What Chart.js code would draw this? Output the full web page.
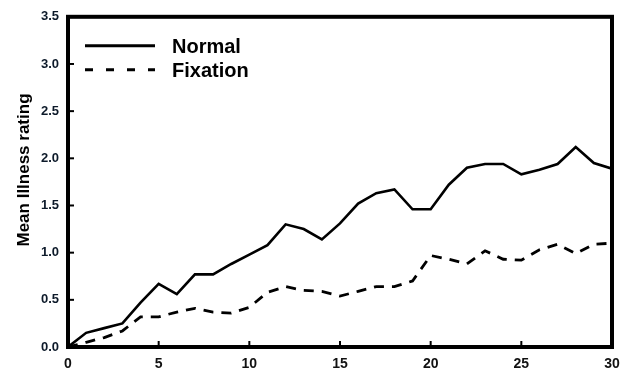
<!DOCTYPE html>
<html>
<head>
<meta charset="utf-8">
<script src="https://cdn.jsdelivr.net/npm/chart.js@4.4.1/dist/chart.umd.min.js"></script>
<style>
  html, body { margin: 0; padding: 0; background: #fff; }
  #wrap { width: 634px; height: 372px; position: relative; }
</style>
</head>
<body>
<div id="wrap"><canvas id="c" width="634" height="372"></canvas></div>
<script>
// Days of exposure (x) and mean illness ratings per condition
const days = [0,1,2,3,4,5,6,7,8,9,10,11,12,13,14,15,16,17,18,19,20,21,22,23,24,25,26,27,28,29,30];
const normal = [0,0.15,0.20,0.25,0.47,0.67,0.56,0.77,0.77,0.88,0.98,1.08,1.30,1.25,1.14,1.31,1.52,1.63,1.67,1.46,1.46,1.72,1.90,1.94,1.94,1.83,1.88,1.94,2.12,1.95,1.89];
const fixation = [0,0.05,0.10,0.17,0.32,0.32,0.37,0.41,0.37,0.36,0.42,0.58,0.64,0.60,0.59,0.54,0.59,0.64,0.64,0.70,0.97,0.93,0.88,1.02,0.93,0.92,1.03,1.09,0.99,1.09,1.10];
const xTicks = [0,5,10,15,20,25,30];
const yTicks = [0,0.5,1.0,1.5,2.0,2.5,3.0,3.5];
const seriesNames = ['Normal', 'Fixation'];
const yTitle = 'Mean Illness rating';

const FONT = '"Liberation Sans", Arial, sans-serif';
const toPoints = (vals) => days.map((d, i) => ({ x: d, y: vals[i] }));

// Thick frame, inward tick marks, axis title and the in-plot legend
const framePlugin = {
  id: 'frame',
  afterDraw(chart) {
    const { ctx, chartArea: a, scales } = chart;
    ctx.save();
    ctx.strokeStyle = '#000';
    // inner tick marks
    ctx.lineWidth = 2;
    yTicks.forEach(v => {
      const y = scales.y.getPixelForValue(v);
      if (v > 0 && v < 3.5) {
        ctx.beginPath(); ctx.moveTo(a.left, y); ctx.lineTo(a.left + 6, y); ctx.stroke();
      }
    });
    xTicks.forEach(v => {
      const x = scales.x.getPixelForValue(v);
      if (v > 0 && v < 30) {
        ctx.beginPath(); ctx.moveTo(x, a.bottom); ctx.lineTo(x, a.bottom - 6); ctx.stroke();
      }
    });
    // frame
    ctx.lineWidth = 4;
    ctx.strokeRect(a.left, a.top, a.right - a.left, a.bottom - a.top);

    // y-axis title
    ctx.save();
    ctx.translate(24, 170);
    ctx.rotate(-Math.PI / 2);
    ctx.font = 'bold 17px ' + FONT;
    ctx.fillStyle = '#000';
    ctx.textAlign = 'center';
    ctx.textBaseline = 'middle';
    ctx.fillText(yTitle, 0, 0);
    ctx.restore();

    // legend
    const items = chart.data.datasets;
    const lx0 = a.left + 17, lx1 = a.left + 87, tx = a.left + 104;
    const rows = [a.top + 29, a.top + 53];
    ctx.font = 'bold 20px ' + FONT;
    ctx.fillStyle = '#000';
    ctx.textBaseline = 'middle';
    items.forEach((ds, i) => {
      const y = rows[i];
      ctx.lineWidth = 3;
      ctx.setLineDash(i === 0 ? [] : [8, 13]);
      ctx.beginPath(); ctx.moveTo(lx0, y); ctx.lineTo(lx1, y); ctx.stroke();
      ctx.setLineDash([]);
      ctx.fillText(ds.label, tx, y + 2);
    });
    ctx.restore();
  }
};

new Chart(document.getElementById('c'), {
  type: 'line',
  data: {
    datasets: [
      { label: seriesNames[0], data: toPoints(normal), borderColor: '#000', borderWidth: 2.6,
        pointRadius: 0, tension: 0, fill: false },
      { label: seriesNames[1], data: toPoints(fixation), borderColor: '#000', borderWidth: 2.8,
        borderDash: [10, 8], pointRadius: 0, tension: 0, fill: false }
    ]
  },
  options: {
    responsive: false,
    animation: false,
    layout: { padding: { left: 8, right: 22, top: 15, bottom: 0 } },
    plugins: { legend: { display: false }, tooltip: { enabled: false } },
    scales: {
      x: {
        type: 'linear', min: 0, max: 30,
        afterBuildTicks: (s) => { s.ticks = xTicks.map(v => ({ value: v })); },
        grid: { display: false, drawTicks: false },
        border: { display: false },
        ticks: { color: '#111', padding: 9, maxRotation: 0,
          font: { family: FONT, size: 14, weight: 'bold' } },
        afterFit: (s) => { s.height = 25; }
      },
      y: {
        min: 0, max: 3.5,
        afterBuildTicks: (s) => { s.ticks = yTicks.map(v => ({ value: v })); },
        grid: { display: false, drawTicks: false },
        border: { display: false },
        ticks: { color: '#0d1a2a', padding: 9,
          callback: (v) => Number(v).toFixed(1),
          font: { family: FONT, size: 13, weight: 'bold' } },
        afterFit: (s) => { s.width = 60; }
      }
    }
  },
  plugins: [framePlugin]
});
</script>
</body>
</html>
